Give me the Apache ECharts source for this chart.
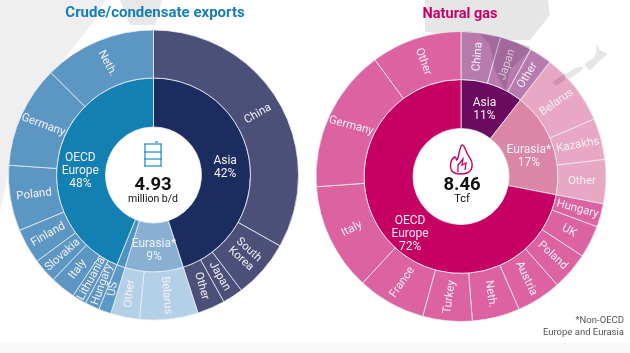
<!DOCTYPE html>
<html><head><meta charset="utf-8">
<style>html,body{margin:0;padding:0;background:#fff}#c{width:630px;height:353px}</style>
<script src="https://cdn.jsdelivr.net/npm/echarts@6/dist/echarts.min.js"></script>
</head><body><div id="c"></div>
<script>
// share of ring (% of 360deg)
const crudeAsia = [['China',33.1],['South\nKorea',6.5],['Japan',2.3],['Other',3.1]];
const crudeEurasia = [['Belarus',6.5],['Other',3.2]];
const crudeAmericas = [['US',1.4]];
const crudeEurope = [['Hungary',1.6],['Lithuania',1.6],['Italy',2.8],['Slovakia',2.7],['Finland',3.9],['Poland',7.3],['Germany',11.4],['Neth.',12.5]];
const gasAsia = [['China',4.4],['Japan',3.6],['Other',2.5]];
const gasEurasia = [['Belarus',8],['Kazakhs',4.6],['Other',4.9]];
const gasEurope = [['Hungary',2.6],['UK',3.6],['Poland',4.2],['Austria',5],['Neth.',5.3],['Turkey',5.5],['France',7.6],['Italy',12],['Germany',16],['Other',10.1]];

const rot = {
 'cChina':30,'cSouth\nKorea':-42,'cJapan':-60,'cOther2':-74,'cBelarus':-85,'cOther3':85,'cUS':80,'cHungary':70,'cLithuania':62,'cItaly':52,'cSlovakia':42,'cFinland':30,'cPoland':7,'cGermany':-20,'cNeth.':-62,
 'gChina':85,'gJapan':72,'gOther1':58,'gBelarus':35,'gKazakhs':10,'gOther2':0,'gHungary':-15,'gUK':-30,'gPoland':-43,'gAustria':-65,'gNeth.':-82,'gTurkey':82,'gFrance':55,'gItaly':28,'gGermany':-15,'gOther3':-70
};
function kids(list,prefix,color,counter){
  return list.map(([name,v])=>{
    let key=prefix+name;
    if(name==='Other'){counter.n++;key=prefix+'Other'+counter.n;}
    return {name,value:v,itemStyle:{color},label:{rotate:rot[key]||0}};
  });
}
// inner-ring labels sit lower than the ring's mid-angle: a spacer line pushes them down
function inner(name,drop,left){
  const lines=name.split('\n').map(s=>'{a|'+s+'}').join('\n');
  return {formatter:'{s|}\n'+lines,padding:[0,left>0?0:-left,0,left>0?left:0],
    rich:{s:{height:drop,lineHeight:drop,fontSize:1},a:{fontFamily:'Roboto',fontSize:12,lineHeight:13,color:'#f4f0f4',align:'center'}}};
}
const cc={n:1}, gc={n:0};
const crudeData=[
 {name:'Asia\n42%',label:inner('Asia\n42%',8,0),itemStyle:{color:'#1b2d5e'},children:kids(crudeAsia,'c','#4c4f78',cc)},
 {name:'Eurasia*\n9%',label:inner('Eurasia*\n9%',6,0),itemStyle:{color:'#88b0d3'},children:kids(crudeEurasia,'c','#b3d0e6',cc)},
 {name:'',itemStyle:{color:'#4b93c2'},children:kids(crudeAmericas,'c','#5c98c4',cc)},
 {name:'OECD\nEurope\n48%',label:inner('OECD\nEurope\n48%',20,-4),itemStyle:{color:'#1380b3'},children:kids(crudeEurope,'c','#5c96c3',cc)}
];
const gasData=[
 {name:'Asia\n11%',label:inner('Asia\n11%',4,0),itemStyle:{color:'#6b0a5e'},children:kids(gasAsia,'g','#b77bae',gc)},
 {name:'Eurasia*\n17%',label:inner('Eurasia*\n17%',12,0),itemStyle:{color:'#dc86a6'},children:kids(gasEurasia,'g','#e8a8c4',gc)},
 {name:'OECD\nEurope\n72%',label:inner('OECD\nEurope\n72%',22,10),itemStyle:{color:'#c70063'},children:kids(gasEurope,'g','#dc62a1',gc)}
];
function sb(center,data){return {
  type:'sunburst',center,radius:[48,145],startAngle:90,sort:null,nodeClick:false,
  emphasis:{disabled:true},
  data,
  label:{color:'#f4f0f4',fontFamily:'Roboto',fontSize:11.5,lineHeight:12,rotate:0,align:'center',verticalAlign:'middle',minAngle:0},
  itemStyle:{borderColor:'#e9eef4',borderWidth:0.8},
  levels:[{}, {r0:48,r:97,label:{fontSize:12,lineHeight:13,rotate:0}},{r0:97,r:145}]
};}
const grey='#e6e6e6';
const txt=(x,y,t,s)=>({type:'text',x,y,z:20,style:Object.assign({text:t,fontFamily:'Roboto',align:'center',verticalAlign:'middle',fill:'#111'},s)});
const option={
 animation:false,backgroundColor:'#fff',
 series:[sb([153.5,175],crudeData),sb([461,176.5],gasData)],
 graphic:[
  {type:'rect',z:-1,shape:{x:0,y:343,width:630,height:10},style:{fill:'#f8f8f8'},silent:true},
  {type:'polygon',z:-1,shape:{points:[[0,0],[105,0],[95,20],[55,70],[15,140],[8,175],[0,212]]},style:{fill:'#efefef'}},
  {type:'polygon',z:-1,shape:{points:[[120,0],[162,0],[155,25],[130,25]]},style:{fill:'#e8e8e8'}},
  {type:'polygon',z:-1,shape:{points:[[425,0],[548,0],[550,15],[530,40],[500,40],[425,32]]},style:{fill:grey}},
  {type:'polygon',z:-1,shape:{smooth:0.3,points:[[597,44],[600,50],[607,54],[598,62],[590,70],[585,64],[595,56]]},style:{fill:grey}},
  {type:'polygon',z:-1,shape:{points:[[552,82],[575,68],[584,66],[580,72],[558,86]]},style:{fill:grey}},
  {type:'polygon',z:10,silent:true,shape:{points:[[480,34],[500,37],[530,47],[528,52],[510,70],[505,92],[495,70],[490,45]]},style:{fill:'#5a2a5a',opacity:0.22}},
  {type:'polygon',z:10,silent:true,shape:{points:[[552,82],[565,74],[565,80],[556,86]]},style:{fill:'#5a2a5a',opacity:0.18}},
  txt(155,13,'Crude/condensate exports',{fontSize:15,fontWeight:'bold',fill:'#1680b4'}),
  txt(460,14,'Natural gas',{fontSize:14.5,fontWeight:'bold',fill:'#c70063'}),
  txt(153,185,'4.93',{fontSize:18.5,fontWeight:'bold'}),
  txt(153,199,'million b/d',{fontSize:10.5}),
  txt(462,185,'8.46',{fontSize:18.5,fontWeight:'bold'}),
  txt(462,199,'Tcf',{fontSize:11}),
  txt(624,327,'*Non-OECD\nEurope and Eurasia',{fontSize:9.5,lineHeight:12,align:'right',fill:'#555'}),
  {type:'group',x:153,y:155,z:20,children:[
    {type:'polyline',shape:{points:[[-9,-11],[9,-11]]},style:{stroke:'#2a93c8',lineWidth:1.3}},
    {type:'polyline',shape:{points:[[-9,11],[9,11]]},style:{stroke:'#2a93c8',lineWidth:1.3}},
    {type:'polyline',shape:{points:[[-8,-11],[-8,11]]},style:{stroke:'#2a93c8',lineWidth:1.3}},
    {type:'polyline',shape:{points:[[8,-11],[8,11]]},style:{stroke:'#2a93c8',lineWidth:1.3}},
    {type:'polyline',shape:{points:[[-9,-3],[9,-3]]},style:{stroke:'#2a93c8',lineWidth:1.3}},
    {type:'polyline',shape:{points:[[-9,4],[9,4]]},style:{stroke:'#2a93c8',lineWidth:1.3}},
    {type:'polyline',shape:{points:[[2,-13],[5,-13]]},style:{stroke:'#2a93c8',lineWidth:1.3}}
  ]},
  {type:'polygon',z:20,shape:{smooth:0.4,points:[[462,145],[468,155],[472,163],[470,171],[461,174],[452,171],[451,162],[455,157],[457,160]]},style:{fill:'none',stroke:'#c70063',lineWidth:1.4}},
  {type:'polyline',z:20,shape:{points:[[458,172],[458,165],[463,159],[462,165],[466,163],[465,170]]},style:{fill:'none',stroke:'#c70063',lineWidth:1.3}}
 ]
};
echarts.init(document.getElementById('c'),null,{renderer:'canvas'}).setOption(option);
</script></body></html>
